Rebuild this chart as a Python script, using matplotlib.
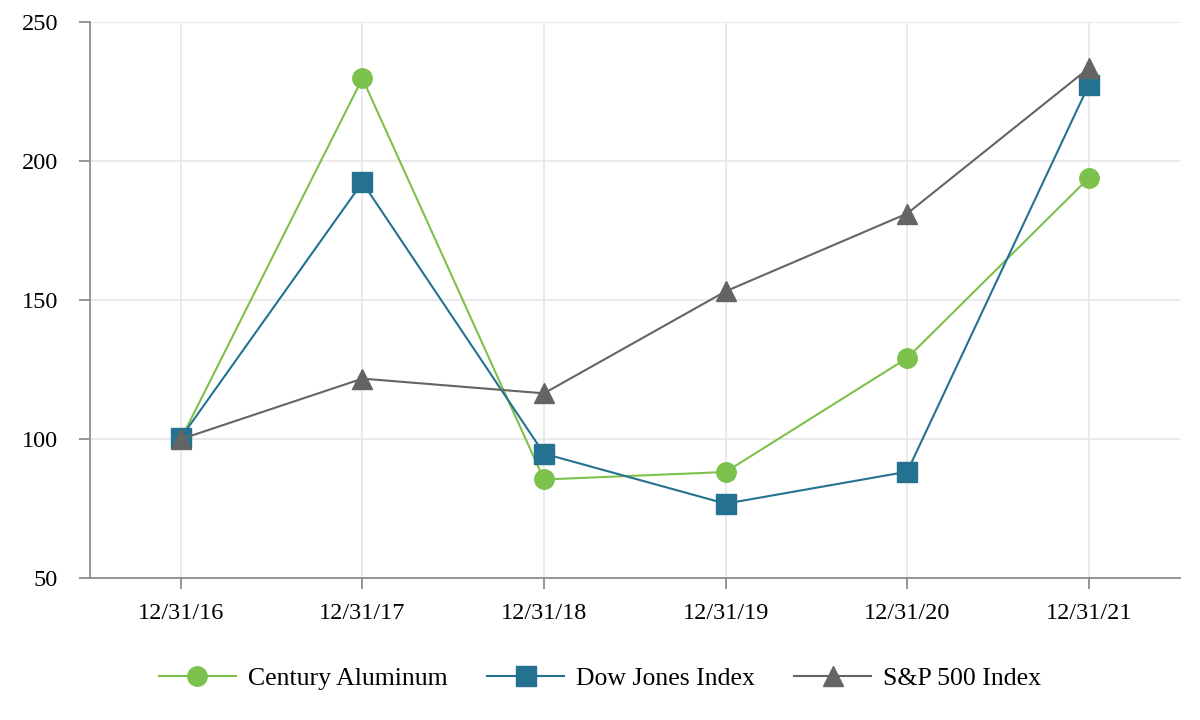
import matplotlib
matplotlib.use("Agg")
import matplotlib.pyplot as plt

dates = ["12/31/16", "12/31/17", "12/31/18", "12/31/19", "12/31/20", "12/31/21"]
century = [100.0, 229.8, 85.5, 88.2, 129.2, 194.0]
dow = [100.5, 192.4, 94.8, 76.8, 88.3, 227.5]
sp500 = [100.0, 121.8, 116.5, 153.2, 181.2, 233.5]
yticks = [50, 100, 150, 200, 250]

plt.rcParams['font.family'] = ['Liberation Serif', 'DejaVu Serif']

fig = plt.figure(figsize=(12, 7.2), dpi=100)
ax = fig.add_axes([0.075, 0.197, 0.908, 0.772])

x = list(range(len(dates)))
ax.plot(x, century, color="#7dc14d", lw=1.5, marker="o", ms=14, label="Century Aluminum", zorder=3)
ax.plot(x, dow, color="#24728f", lw=1.5, marker="s", ms=14, label="Dow Jones Index", zorder=4)
ax.plot(x, sp500, color="#646464", lw=1.5, marker="^", ms=15, label="S&P 500 Index", zorder=5)

ax.set_xlim(-0.5, 5.5)
ax.set_ylim(50, 250)
ax.set_xticks(x)
ax.set_xticklabels(dates)
ax.set_yticks(yticks)
ax.grid(True, color="#e6e6e6", lw=1.2, zorder=0)
ax.set_axisbelow(True)
for s in ["top", "right"]:
    ax.spines[s].set_visible(False)
for s in ["left", "bottom"]:
    ax.spines[s].set_color("#8c8c8c")
    ax.spines[s].set_linewidth(1.3)
ax.tick_params(axis="both", direction="out", length=8, color="#8c8c8c", width=1.3, labelsize=17.5)
ax.tick_params(axis="y", pad=15)
ax.tick_params(axis="x", pad=10)

fig.legend(loc="center", bbox_to_anchor=(0.5, 0.058), ncol=3, frameon=False, fontsize=18.5,
           handlelength=3.0, columnspacing=1.55, handletextpad=0.45)

fig.savefig("out.png", dpi=100)
